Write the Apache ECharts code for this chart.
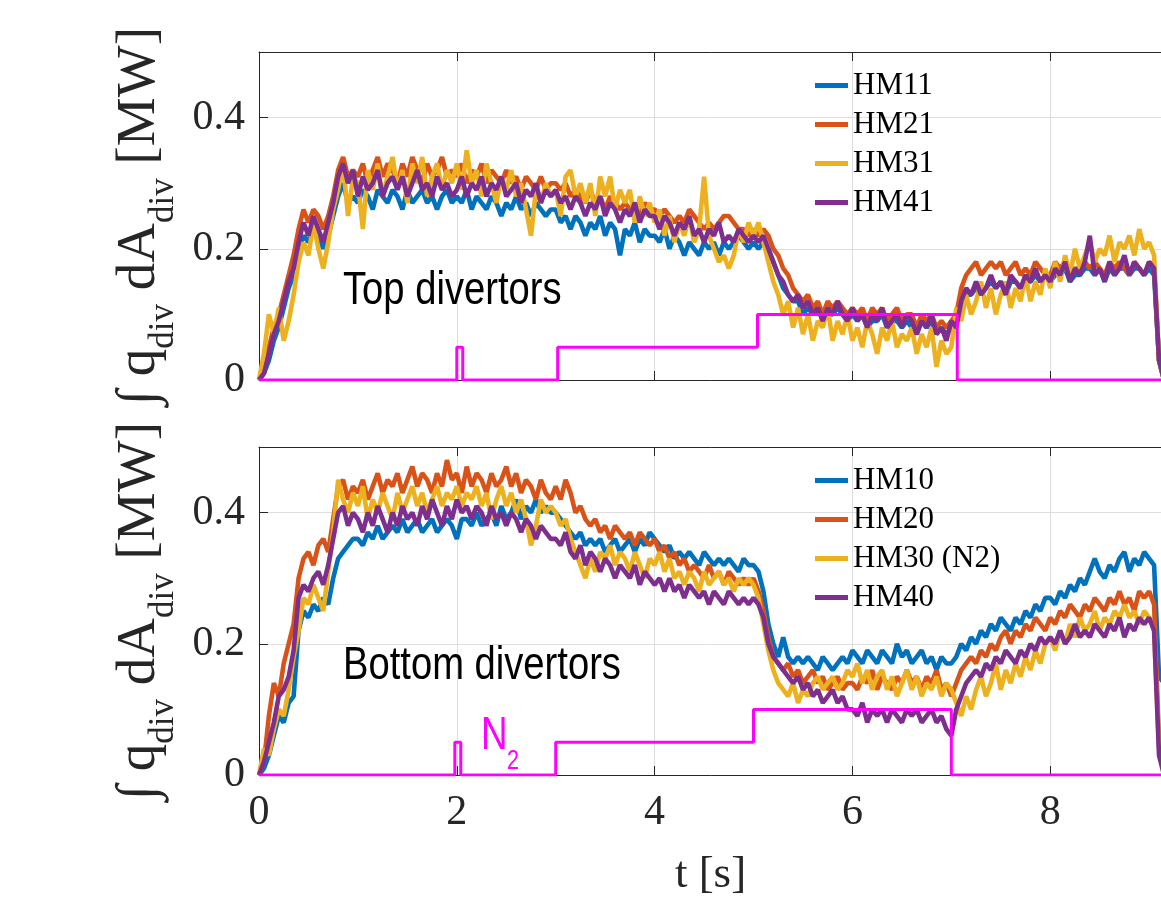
<!DOCTYPE html>
<html>
<head>
<meta charset="utf-8">
<script src="https://cdn.jsdelivr.net/npm/echarts@6/dist/echarts.min.js"></script>
<style>
html,body{margin:0;padding:0;background:#fff;overflow:hidden;}
#chart{width:1161px;height:909px;}
</style>
</head>
<body>
<div id="chart"></div>
<script>
// ---- sampling of the signals (s) ----
const DT = 0.05;
const X_MAX = 9.13;
const xTicks = [0, 2, 4, 6, 8];
const yTicks = [0, 0.2, 0.4];

// ---- top divertors [MW] ----
const topHM11 = [
0,0.01,0.03,0.06,0.08,0.11,0.14,0.16,0.20,0.22,0.21,0.23,0.22,0.20,0.22,0.25,0.28,0.30,0.27,0.28,
0.27,0.29,0.28,0.26,0.29,0.28,0.27,0.29,0.28,0.26,0.29,0.27,0.28,0.29,0.27,0.28,0.26,0.28,0.29,0.27,
0.28,0.27,0.29,0.26,0.28,0.27,0.26,0.28,0.27,0.25,0.27,0.26,0.28,0.26,0.27,0.25,0.27,0.26,0.25,0.26,
0.26,0.24,0.25,0.23,0.25,0.24,0.22,0.24,0.23,0.25,0.22,0.24,0.23,0.19,0.23,0.22,0.24,0.21,0.23,0.22,
0.22,0.21,0.23,0.20,0.22,0.21,0.19,0.21,0.20,0.19,0.21,0.20,0.21,0.19,0.21,0.20,0.21,0.22,0.21,0.20,
0.21,0.20,0.21,0.20,0.18,0.16,0.14,0.13,0.12,0.12,0.10,0.11,0.10,0.11,0.09,0.10,0.10,0.11,0.10,0.09,
0.10,0.09,0.10,0.08,0.09,0.09,0.10,0.08,0.09,0.09,0.08,0.09,0.08,0.07,0.09,0.08,0.09,0.07,0.08,0.07,
0.08,0.09,0.12,0.13,0.13,0.14,0.13,0.14,0.15,0.14,0.15,0.13,0.15,0.15,0.14,0.15,0.15,0.16,0.15,0.16,
0.15,0.16,0.16,0.17,0.15,0.16,0.16,0.17,0.17,0.16,0.17,0.15,0.17,0.16,0.17,0.17,0.16,0.17,0.17,0.16,
0.17,0.16,0.03,0.00];
const topHM21 = [
0,0.02,0.05,0.08,0.10,0.13,0.16,0.19,0.23,0.26,0.24,0.26,0.25,0.23,0.25,0.28,0.32,0.34,0.31,0.32,
0.31,0.33,0.30,0.32,0.34,0.31,0.33,0.32,0.30,0.33,0.31,0.34,0.32,0.30,0.33,0.31,0.32,0.34,0.31,0.32,
0.31,0.33,0.30,0.32,0.31,0.33,0.30,0.32,0.31,0.30,0.32,0.30,0.31,0.29,0.31,0.30,0.29,0.31,0.29,0.30,
0.30,0.29,0.30,0.28,0.29,0.28,0.27,0.29,0.27,0.28,0.26,0.28,0.27,0.26,0.27,0.26,0.27,0.25,0.27,0.26,
0.26,0.25,0.26,0.25,0.24,0.25,0.24,0.26,0.25,0.24,0.23,0.24,0.23,0.24,0.25,0.25,0.24,0.23,0.23,0.22,
0.23,0.22,0.23,0.22,0.20,0.19,0.17,0.16,0.14,0.13,0.12,0.13,0.11,0.12,0.10,0.12,0.11,0.12,0.11,0.10,
0.11,0.10,0.11,0.09,0.11,0.10,0.11,0.09,0.10,0.11,0.09,0.10,0.10,0.08,0.10,0.09,0.10,0.08,0.09,0.08,
0.09,0.10,0.14,0.16,0.17,0.18,0.16,0.17,0.18,0.17,0.18,0.16,0.17,0.18,0.16,0.17,0.16,0.18,0.17,0.16,
0.16,0.18,0.17,0.18,0.16,0.17,0.17,0.18,0.17,0.18,0.17,0.16,0.18,0.17,0.18,0.17,0.16,0.18,0.17,0.16,
0.18,0.17,0.03,0.00];
const topHM31 = [
0,0.04,0.10,0.07,0.11,0.06,0.09,0.13,0.18,0.21,0.19,0.24,0.20,0.17,0.21,0.26,0.29,0.33,0.25,0.31,
0.30,0.23,0.32,0.29,0.33,0.28,0.31,0.34,0.29,0.32,0.27,0.33,0.30,0.34,0.28,0.31,0.33,0.29,0.32,0.30,
0.33,0.29,0.35,0.30,0.32,0.28,0.33,0.30,0.27,0.31,0.29,0.32,0.28,0.30,0.26,0.22,0.29,0.27,0.30,0.28,
0.29,0.25,0.31,0.32,0.28,0.30,0.27,0.30,0.25,0.31,0.28,0.31,0.26,0.29,0.27,0.29,0.24,0.28,0.25,0.27,
0.24,0.26,0.22,0.25,0.21,0.24,0.22,0.25,0.21,0.23,0.31,0.22,0.20,0.18,0.19,0.17,0.19,0.23,0.21,0.24,
0.22,0.24,0.21,0.18,0.15,0.13,0.10,0.12,0.08,0.11,0.07,0.10,0.06,0.09,0.08,0.11,0.06,0.09,0.07,0.10,
0.06,0.08,0.05,0.09,0.07,0.04,0.08,0.06,0.09,0.05,0.07,0.06,0.08,0.04,0.07,0.05,0.08,0.02,0.06,0.04,
0.05,0.11,0.09,0.13,0.10,0.12,0.15,0.11,0.14,0.10,0.13,0.15,0.11,0.14,0.12,0.16,0.12,0.15,0.13,0.17,
0.14,0.18,0.15,0.19,0.16,0.20,0.17,0.19,0.21,0.18,0.20,0.19,0.22,0.18,0.21,0.20,0.22,0.19,0.23,0.20,
0.21,0.19,0.03,0.00];
const topHM41 = [
0,0.01,0.04,0.07,0.09,0.12,0.15,0.17,0.21,0.24,0.22,0.25,0.23,0.21,0.24,0.27,0.31,0.33,0.30,0.32,
0.28,0.31,0.29,0.30,0.32,0.28,0.30,0.31,0.29,0.31,0.28,0.30,0.32,0.29,0.30,0.28,0.31,0.29,0.30,0.28,
0.29,0.31,0.28,0.30,0.29,0.31,0.28,0.30,0.29,0.31,0.28,0.29,0.30,0.27,0.29,0.28,0.30,0.27,0.29,0.28,
0.29,0.27,0.28,0.26,0.28,0.27,0.25,0.27,0.26,0.28,0.25,0.27,0.26,0.24,0.26,0.25,0.27,0.24,0.26,0.25,
0.25,0.23,0.25,0.24,0.22,0.24,0.23,0.25,0.22,0.23,0.21,0.23,0.22,0.24,0.21,0.22,0.21,0.23,0.22,0.21,
0.22,0.21,0.22,0.20,0.18,0.16,0.15,0.13,0.12,0.13,0.11,0.12,0.10,0.11,0.09,0.11,0.10,0.12,0.10,0.09,
0.11,0.09,0.10,0.08,0.10,0.09,0.11,0.08,0.09,0.10,0.08,0.10,0.09,0.07,0.09,0.08,0.10,0.07,0.08,0.06,
0.09,0.08,0.12,0.14,0.13,0.15,0.13,0.14,0.16,0.14,0.15,0.13,0.16,0.15,0.14,0.16,0.15,0.17,0.15,0.16,
0.15,0.17,0.16,0.18,0.15,0.17,0.16,0.18,0.22,0.16,0.17,0.15,0.18,0.16,0.17,0.19,0.16,0.18,0.17,0.16,
0.18,0.17,0.03,0.00];

// ---- bottom divertors [MW] ----
const botHM10 = [
0,0.01,0.03,0.06,0.09,0.08,0.11,0.12,0.22,0.25,0.24,0.26,0.25,0.27,0.26,0.30,0.33,0.34,0.35,0.36,
0.36,0.35,0.37,0.36,0.38,0.36,0.37,0.38,0.37,0.39,0.37,0.38,0.39,0.37,0.38,0.39,0.37,0.38,0.39,0.38,
0.36,0.39,0.39,0.38,0.40,0.38,0.39,0.40,0.38,0.41,0.39,0.40,0.42,0.39,0.41,0.40,0.42,0.40,0.41,0.40,
0.40,0.39,0.38,0.37,0.36,0.37,0.35,0.36,0.35,0.36,0.34,0.35,0.36,0.34,0.35,0.36,0.34,0.36,0.35,0.37,
0.36,0.35,0.34,0.35,0.33,0.34,0.33,0.34,0.33,0.32,0.34,0.33,0.32,0.33,0.32,0.33,0.32,0.31,0.33,0.32,
0.32,0.31,0.28,0.23,0.20,0.18,0.21,0.18,0.17,0.18,0.17,0.18,0.17,0.16,0.18,0.17,0.16,0.17,0.18,0.17,
0.19,0.18,0.17,0.19,0.18,0.17,0.19,0.18,0.17,0.20,0.18,0.19,0.17,0.18,0.19,0.17,0.18,0.16,0.18,0.17,
0.17,0.18,0.20,0.19,0.21,0.20,0.22,0.21,0.23,0.22,0.24,0.23,0.22,0.24,0.23,0.25,0.24,0.26,0.25,0.27,
0.27,0.26,0.28,0.27,0.29,0.28,0.30,0.29,0.31,0.33,0.31,0.30,0.32,0.31,0.33,0.34,0.31,0.33,0.32,0.34,
0.33,0.32,0.15,0.14];
const botHM20 = [
0,0.02,0.09,0.14,0.12,0.17,0.20,0.23,0.30,0.33,0.34,0.32,0.35,0.36,0.34,0.39,0.44,0.45,0.42,0.44,
0.43,0.45,0.42,0.44,0.46,0.43,0.45,0.44,0.46,0.43,0.45,0.47,0.44,0.46,0.45,0.43,0.46,0.44,0.48,0.45,
0.46,0.43,0.47,0.44,0.46,0.45,0.43,0.46,0.44,0.45,0.47,0.44,0.46,0.43,0.45,0.44,0.42,0.45,0.43,0.42,
0.44,0.42,0.45,0.43,0.40,0.41,0.39,0.38,0.39,0.37,0.38,0.36,0.38,0.37,0.36,0.37,0.35,0.37,0.36,0.35,
0.36,0.34,0.35,0.33,0.34,0.32,0.33,0.31,0.32,0.31,0.30,0.32,0.30,0.31,0.29,0.31,0.30,0.29,0.30,0.29,
0.30,0.28,0.25,0.21,0.18,0.17,0.16,0.17,0.15,0.16,0.14,0.15,0.16,0.14,0.15,0.13,0.14,0.15,0.13,0.14,
0.14,0.13,0.15,0.14,0.16,0.13,0.15,0.14,0.13,0.15,0.14,0.16,0.14,0.15,0.13,0.15,0.14,0.16,0.13,0.14,
0.12,0.14,0.16,0.17,0.18,0.17,0.19,0.18,0.20,0.19,0.21,0.22,0.20,0.22,0.21,0.23,0.22,0.24,0.23,0.22,
0.24,0.23,0.25,0.24,0.26,0.25,0.24,0.26,0.25,0.27,0.26,0.25,0.27,0.26,0.28,0.26,0.27,0.25,0.28,0.27,
0.28,0.26,0.05,0.02];
const botHM30 = [
0,0.04,0.03,0.07,0.10,0.09,0.13,0.18,0.22,0.27,0.26,0.29,0.27,0.25,0.31,0.37,0.45,0.42,0.40,0.43,
0.41,0.44,0.39,0.42,0.40,0.43,0.41,0.39,0.43,0.40,0.42,0.44,0.41,0.43,0.40,0.42,0.44,0.41,0.43,0.42,
0.44,0.41,0.43,0.42,0.44,0.41,0.43,0.39,0.42,0.44,0.41,0.43,0.40,0.42,0.39,0.35,0.38,0.42,0.40,0.41,
0.40,0.38,0.39,0.36,0.34,0.32,0.30,0.33,0.31,0.34,0.33,0.35,0.32,0.34,0.33,0.31,0.34,0.32,0.30,0.33,
0.32,0.34,0.31,0.33,0.30,0.31,0.29,0.31,0.30,0.28,0.31,0.29,0.30,0.31,0.29,0.30,0.28,0.30,0.29,0.30,
0.29,0.27,0.23,0.19,0.16,0.14,0.13,0.12,0.14,0.11,0.13,0.12,0.14,0.15,0.13,0.14,0.15,0.13,0.14,0.16,
0.15,0.17,0.14,0.16,0.13,0.15,0.16,0.13,0.15,0.12,0.14,0.16,0.13,0.15,0.12,0.14,0.13,0.15,0.12,0.14,
0.13,0.11,0.09,0.12,0.10,0.13,0.15,0.12,0.14,0.17,0.13,0.16,0.14,0.17,0.15,0.18,0.16,0.19,0.17,0.20,
0.21,0.19,0.22,0.20,0.23,0.21,0.24,0.22,0.23,0.25,0.22,0.24,0.23,0.25,0.24,0.26,0.24,0.25,0.23,0.25,
0.24,0.22,0.04,0.01];
const botHM40 = [
0,0.02,0.05,0.08,0.12,0.13,0.15,0.19,0.27,0.29,0.28,0.30,0.31,0.29,0.32,0.36,0.40,0.41,0.38,0.40,
0.39,0.37,0.40,0.38,0.41,0.39,0.37,0.40,0.38,0.41,0.39,0.40,0.38,0.41,0.39,0.42,0.40,0.38,0.41,0.39,
0.42,0.40,0.41,0.39,0.41,0.40,0.38,0.41,0.39,0.40,0.38,0.40,0.39,0.37,0.39,0.38,0.36,0.38,0.37,0.36,
0.36,0.35,0.37,0.34,0.33,0.35,0.32,0.34,0.33,0.31,0.33,0.32,0.30,0.32,0.31,0.30,0.32,0.29,0.31,0.30,
0.29,0.30,0.28,0.30,0.28,0.29,0.27,0.29,0.28,0.27,0.28,0.26,0.28,0.27,0.26,0.28,0.27,0.26,0.27,0.26,
0.27,0.26,0.24,0.20,0.18,0.17,0.16,0.15,0.14,0.15,0.13,0.14,0.12,0.13,0.11,0.12,0.13,0.11,0.12,0.10,
0.10,0.09,0.11,0.08,0.10,0.09,0.10,0.08,0.10,0.09,0.08,0.10,0.09,0.10,0.08,0.09,0.10,0.08,0.09,0.07,
0.06,0.10,0.12,0.14,0.15,0.16,0.15,0.17,0.16,0.18,0.17,0.19,0.18,0.17,0.19,0.18,0.20,0.19,0.21,0.20,
0.21,0.20,0.22,0.20,0.21,0.23,0.21,0.22,0.21,0.23,0.22,0.21,0.23,0.22,0.24,0.21,0.23,0.22,0.24,0.23,
0.24,0.22,0.03,0.00];

// ---- N2 seeding waveform (arbitrary units on the same axis) ----
const n2TopT = [0, 2.00, 2.00, 2.06, 2.06, 3.02, 3.02, 5.04, 5.04, 7.06, 7.06, 9.3];
const n2BotT = [0, 1.98, 1.98, 2.04, 2.04, 3.00, 3.00, 5.00, 5.00, 7.00, 7.00, 9.3];
const n2V    = [0, 0, 0.05, 0.05, 0, 0, 0.05, 0.05, 0.10, 0.10, 0, 0];

const topNames = ['HM11', 'HM21', 'HM31', 'HM41'];
const botNames = ['HM10', 'HM20', 'HM30 (N2)', 'HM40'];
const topData = [topHM11, topHM21, topHM31, topHM41];
const botData = [botHM10, botHM20, botHM30, botHM40];
const colors = ['#0072BD', '#D95319', '#EDB120', '#7E2F8E'];
const MAGENTA = '#FF00FF';

const AX = '#262626';
const GRIDC = '#dedede';
const SERIF = '"Liberation Serif", "Times New Roman", serif';
const SANS = '"Liberation Sans", Arial, sans-serif';

const toPairs = arr => arr.map((v, i) => [Math.round(i * DT * 100) / 100, v]);

function xAx(grid, pos, labels) {
  return {
    gridIndex: grid, type: 'value', position: pos, min: 0, max: X_MAX, interval: 2,
    axisLine: { show: true, onZero: false, lineStyle: { color: AX, width: 1 } },
    axisTick: { show: true, inside: true, length: 9, lineStyle: { color: AX, width: 1 } },
    axisLabel: labels ? { show: true, showMaxLabel: false, margin: 17, color: AX, fontFamily: SERIF, fontSize: 42 } : { show: false },
    splitLine: { show: pos === 'bottom', lineStyle: { color: GRIDC, width: 1 } }
  };
}
function yAx(grid) {
  return {
    gridIndex: grid, type: 'value', position: 'left', min: 0, max: 0.5, interval: 0.2,
    axisLine: { show: true, onZero: false, lineStyle: { color: AX, width: 1 } },
    axisTick: { show: true, inside: true, length: 9, lineStyle: { color: AX, width: 1 } },
    axisLabel: { show: true, showMaxLabel: false, margin: 14, color: AX, fontFamily: SERIF, fontSize: 42 },
    splitLine: { show: true, lineStyle: { color: GRIDC, width: 1 } },
    name: '∫ q{s|div} dA{s|div} [MW]',
    nameLocation: 'middle', nameRotate: 90, nameGap: 76,
    nameTextStyle: {
      fontFamily: SERIF, fontSize: 55, color: AX, lineHeight: 84,
      rich: { s: { fontFamily: SERIF, fontSize: 35, lineHeight: 35, color: AX, verticalAlign: 'bottom' } }
    }
  };
}

const xAxes = [xAx(0, 'bottom', false), xAx(0, 'top', false), xAx(1, 'bottom', true), xAx(1, 'top', false)];
xAxes[2].name = 't [s]';
xAxes[2].nameLocation = 'middle';
xAxes[2].nameGap = 78;
xAxes[2].nameTextStyle = { fontFamily: SERIF, fontSize: 45, color: AX };

const LW = 4.6;
const series = [];
topData.forEach((d, k) => series.push({
  name: topNames[k], type: 'line', xAxisIndex: 0, yAxisIndex: 0, data: toPairs(d),
  showSymbol: false, symbol: 'none', color: colors[k], lineStyle: { width: LW, color: colors[k] }, z: 2 + k
}));
series.push({ name: 'N2top', type: 'line', xAxisIndex: 0, yAxisIndex: 0,
  data: n2TopT.map((t, i) => [t, n2V[i]]), showSymbol: false, symbol: 'none',
  lineStyle: { width: 3, color: MAGENTA }, color: MAGENTA, z: 10 });
botData.forEach((d, k) => series.push({
  name: botNames[k], type: 'line', xAxisIndex: 2, yAxisIndex: 1, data: toPairs(d),
  showSymbol: false, symbol: 'none', color: colors[k], lineStyle: { width: LW, color: colors[k] }, z: 2 + k
}));
series.push({ name: 'N2bot', type: 'line', xAxisIndex: 2, yAxisIndex: 1,
  data: n2BotT.map((t, i) => [t, n2V[i]]), showSymbol: false, symbol: 'none',
  lineStyle: { width: 3, color: MAGENTA }, color: MAGENTA, z: 10 });

function legendCfg(names, top) {
  return {
    data: names, orient: 'vertical', left: 815, top: top, padding: 0,
    icon: 'rect', itemWidth: 33, itemHeight: 5, itemGap: 8, selectedMode: false,
    textStyle: { fontFamily: SERIF, fontSize: 31, lineHeight: 31, color: '#000' }
  };
}

const chart = echarts.init(document.getElementById('chart'), null, { renderer: 'canvas' });
chart.setOption({
  animation: false,
  backgroundColor: '#fff',
  grid: [
    { left: 259, top: 52, width: 903, height: 328, containLabel: false, outerBoundsMode: 'none' },
    { left: 259, top: 447, width: 903, height: 328, containLabel: false, outerBoundsMode: 'none' }
  ],
  xAxis: xAxes,
  yAxis: [yAx(0), yAx(1)],
  legend: [legendCfg(topNames, 70), legendCfg(botNames, 465)],
  graphic: [
    { type: 'text', x: 343, y: 291, scaleX: 0.83, z: 100,
      style: { text: 'Top divertors', fontFamily: SANS, fontSize: 46, fill: '#000', verticalAlign: 'middle' } },
    { type: 'text', x: 343, y: 666, scaleX: 0.83, z: 100,
      style: { text: 'Bottom divertors', fontFamily: SANS, fontSize: 46, fill: '#000', verticalAlign: 'middle' } },
    { type: 'text', x: 481, y: 736, scaleX: 0.8, z: 100,
      style: { text: 'N', fontFamily: SANS, fontSize: 46, fill: MAGENTA, verticalAlign: 'middle' } },
    { type: 'text', x: 507, y: 762, scaleX: 0.8, z: 100,
      style: { text: '2', fontFamily: SANS, fontSize: 27, fill: MAGENTA, verticalAlign: 'middle' } }
  ],
  series: series
});
</script>
</body>
</html>
